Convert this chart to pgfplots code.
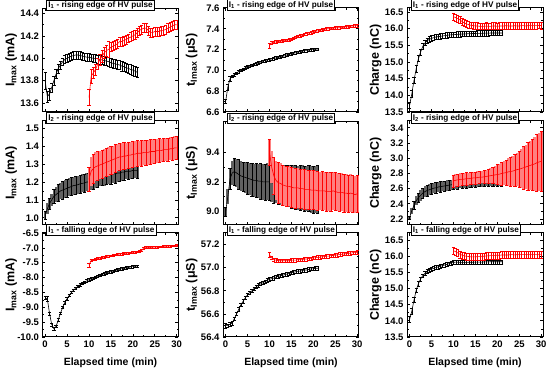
\documentclass[border=0pt]{standalone}
\usepackage{fontspec}
\setmainfont{Liberation Sans}
\usepackage{pgfplots}
\pgfplotsset{compat=1.18}
\usepackage{pgfplotstable}

\pgfplotstableread[row sep=\\]{t y e\\ 0 13.80 0.08\\ 0.5 13.66 0.05\\ 1 13.68 0.05\\ 1.5 13.74 0.04\\ 2 13.80 0.04\\ 2.5 13.86 0.04\\ 3 13.91 0.04\\ 3.5 13.94 0.035\\ 4 13.97 0.035\\ 4.5 13.99 0.035\\ 5 14.00 0.035\\ 5.5 14.01 0.035\\ 6 14.02 0.035\\ 6.5 14.025 0.035\\ 7 14.03 0.035\\ 7.5 14.03 0.035\\ 8 14.025 0.035\\ 8.5 14.02 0.035\\ 9 14.015 0.035\\ 9.5 14.01 0.035\\ 10 14.01 0.035\\ 10.5 14.005 0.035\\ 11 14.00 0.035\\ 11.5 14.00 0.035\\ 12 13.995 0.035\\ 12.5 13.99 0.038\\ 13 13.985 0.038\\ 13.5 13.98 0.038\\ 14 13.975 0.038\\ 14.5 13.97 0.04\\ 15 13.96 0.04\\ 15.5 13.955 0.04\\ 16 13.95 0.04\\ 16.5 13.945 0.04\\ 17 13.94 0.04\\ 17.5 13.93 0.042\\ 18 13.925 0.042\\ 18.5 13.915 0.042\\ 19 13.91 0.042\\ 19.5 13.90 0.045\\ 20 13.895 0.045\\ 20.5 13.885 0.045\\ 21 13.875 0.045\\}\Ab
\pgfplotstableread[row sep=\\]{t y e\\ 10 13.65 0.07\\ 10.5 13.84 0.06\\ 11 13.87 0.05\\ 11.5 13.90 0.05\\ 12 13.95 0.05\\ 12.5 13.99 0.05\\ 13 14.02 0.05\\ 13.5 14.05 0.05\\ 14 14.07 0.05\\ 14.5 14.08 0.07\\ 15 14.10 0.04\\ 15.5 14.11 0.04\\ 16 14.12 0.04\\ 16.5 14.13 0.04\\ 17 14.15 0.04\\ 17.5 14.15 0.04\\ 18 14.16 0.04\\ 18.5 14.17 0.04\\ 19 14.18 0.04\\ 19.5 14.19 0.04\\ 20 14.20 0.04\\ 20.5 14.21 0.04\\ 21 14.23 0.04\\ 21.5 14.25 0.04\\ 22 14.26 0.04\\ 22.5 14.27 0.04\\ 23 14.27 0.04\\ 23.5 14.25 0.04\\ 24 14.23 0.04\\ 24.5 14.23 0.04\\ 25 14.24 0.04\\ 25.5 14.24 0.04\\ 26 14.24 0.04\\ 26.5 14.25 0.04\\ 27 14.25 0.04\\ 27.5 14.26 0.04\\ 28 14.27 0.04\\ 28.5 14.28 0.04\\ 29 14.29 0.04\\ 29.5 14.30 0.04\\ 30 14.30 0.04\\}\Ar

\pgfplotstableread[row sep=\\]{t y e\\ 0 6.70 0.02\\ 0.5 6.84 0.03\\ 1 6.92 0.02\\ 1.5 6.945 0.012\\ 2 6.96 0.012\\ 2.5 6.975 0.012\\ 3 6.99 0.012\\ 3.5 7.00 0.012\\ 4 7.01 0.012\\ 4.5 7.025 0.012\\ 5 7.035 0.012\\ 5.5 7.04 0.012\\ 6 7.05 0.012\\ 6.5 7.06 0.012\\ 7 7.065 0.012\\ 7.5 7.075 0.012\\ 8 7.08 0.012\\ 8.5 7.09 0.012\\ 9 7.095 0.012\\ 9.5 7.10 0.012\\ 10 7.105 0.012\\ 10.5 7.11 0.012\\ 11 7.115 0.012\\ 11.5 7.12 0.012\\ 12 7.125 0.012\\ 12.5 7.13 0.012\\ 13 7.135 0.012\\ 13.5 7.14 0.012\\ 14 7.15 0.012\\ 14.5 7.155 0.012\\ 15 7.16 0.012\\ 15.5 7.165 0.012\\ 16 7.17 0.012\\ 16.5 7.175 0.012\\ 17 7.18 0.012\\ 17.5 7.185 0.012\\ 18 7.19 0.012\\ 18.5 7.19 0.012\\ 19 7.195 0.012\\ 19.5 7.20 0.012\\ 20 7.20 0.012\\ 20.5 7.205 0.012\\ 21 7.205 0.012\\}\Bb
\pgfplotstableread[row sep=\\]{t y e\\ 10 7.24 0.025\\ 10.5 7.265 0.012\\ 11 7.27 0.012\\ 11.5 7.275 0.012\\ 12 7.28 0.012\\ 12.5 7.28 0.012\\ 13 7.285 0.012\\ 13.5 7.29 0.012\\ 14 7.29 0.012\\ 14.5 7.295 0.012\\ 15 7.30 0.012\\ 15.5 7.31 0.012\\ 16 7.32 0.012\\ 16.5 7.33 0.012\\ 17 7.335 0.012\\ 17.5 7.34 0.012\\ 18 7.35 0.012\\ 18.5 7.355 0.012\\ 19 7.36 0.012\\ 19.5 7.365 0.012\\ 20 7.37 0.012\\ 20.5 7.375 0.012\\ 21 7.38 0.012\\ 21.5 7.385 0.012\\ 22 7.39 0.012\\ 22.5 7.395 0.012\\ 23 7.40 0.012\\ 23.5 7.40 0.012\\ 24 7.405 0.012\\ 24.5 7.405 0.012\\ 25 7.41 0.012\\ 25.5 7.41 0.012\\ 26 7.41 0.012\\ 26.5 7.415 0.012\\ 27 7.415 0.012\\ 27.5 7.42 0.012\\ 28 7.42 0.012\\ 28.5 7.425 0.012\\ 29 7.425 0.012\\ 29.5 7.43 0.012\\ 30 7.43 0.012\\}\Br

\pgfplotstableread[row sep=\\]{t y e\\ 0 13.70 0.1\\ 0.5 14.05 0.1\\ 1 14.45 0.1\\ 1.5 14.80 0.1\\ 2 15.10 0.09\\ 2.5 15.30 0.09\\ 3 15.47 0.08\\ 3.5 15.57 0.08\\ 4 15.64 0.08\\ 4.5 15.68 0.08\\ 5 15.71 0.08\\ 5.5 15.73 0.08\\ 6 15.75 0.08\\ 6.5 15.76 0.08\\ 7 15.77 0.08\\ 7.5 15.78 0.08\\ 8 15.79 0.08\\ 8.5 15.80 0.08\\ 9 15.81 0.08\\ 9.5 15.815 0.08\\ 10 15.82 0.08\\ 10.5 15.825 0.08\\ 11 15.83 0.08\\ 11.5 15.835 0.08\\ 12 15.84 0.08\\ 12.5 15.84 0.08\\ 13 15.845 0.08\\ 13.5 15.85 0.08\\ 14 15.85 0.08\\ 14.5 15.855 0.08\\ 15 15.855 0.08\\ 15.5 15.86 0.08\\ 16 15.86 0.08\\ 16.5 15.86 0.08\\ 17 15.865 0.08\\ 17.5 15.865 0.08\\ 18 15.865 0.08\\ 18.5 15.87 0.08\\ 19 15.87 0.08\\ 19.5 15.87 0.08\\ 20 15.87 0.08\\ 20.5 15.87 0.08\\ 21 15.87 0.08\\}\Cb
\pgfplotstableread[row sep=\\]{t y e\\ 10 16.36 0.1\\ 10.5 16.33 0.1\\ 11 16.30 0.1\\ 11.5 16.26 0.1\\ 12 16.21 0.1\\ 12.5 16.17 0.1\\ 13 16.14 0.1\\ 13.5 16.12 0.1\\ 14 16.10 0.1\\ 14.5 16.09 0.1\\ 15 16.08 0.1\\ 15.5 16.08 0.1\\ 16 16.07 0.1\\ 16.5 16.07 0.1\\ 17 16.07 0.1\\ 17.5 16.08 0.1\\ 18 16.07 0.1\\ 18.5 16.07 0.1\\ 19 16.08 0.1\\ 19.5 16.08 0.1\\ 20 16.07 0.1\\ 20.5 16.08 0.1\\ 21 16.08 0.1\\ 21.5 16.08 0.1\\ 22 16.09 0.1\\ 22.5 16.08 0.1\\ 23 16.08 0.1\\ 23.5 16.08 0.1\\ 24 16.09 0.1\\ 24.5 16.08 0.1\\ 25 16.08 0.1\\ 25.5 16.09 0.1\\ 26 16.09 0.1\\ 26.5 16.08 0.1\\ 27 16.09 0.1\\ 27.5 16.09 0.1\\ 28 16.09 0.1\\ 28.5 16.09 0.1\\ 29 16.09 0.1\\ 29.5 16.10 0.1\\ 30 16.09 0.1\\}\Cr

\pgfplotstableread[row sep=\\]{t y e\\ 0 1.015 0.02\\ 0.5 1.05 0.03\\ 1 1.08 0.03\\ 1.5 1.10 0.035\\ 2 1.12 0.04\\ 2.5 1.13 0.04\\ 3 1.14 0.045\\ 3.5 1.15 0.045\\ 4 1.155 0.05\\ 4.5 1.16 0.05\\ 5 1.165 0.05\\ 5.5 1.17 0.05\\ 6 1.175 0.05\\ 6.5 1.18 0.05\\ 7 1.182 0.05\\ 7.5 1.185 0.05\\ 8 1.19 0.05\\ 8.5 1.192 0.05\\ 9 1.195 0.05\\ 9.5 1.20 0.05\\ 10 1.20 0.05\\ 10.5 1.205 0.05\\ 11 1.21 0.05\\ 11.5 1.215 0.05\\ 12 1.22 0.05\\ 12.5 1.225 0.05\\ 13 1.23 0.05\\ 13.5 1.23 0.05\\ 14 1.235 0.05\\ 14.5 1.24 0.05\\ 15 1.24 0.05\\ 15.5 1.245 0.05\\ 16 1.245 0.05\\ 16.5 1.25 0.048\\ 17 1.25 0.048\\ 17.5 1.255 0.048\\ 18 1.255 0.047\\ 18.5 1.26 0.046\\ 19 1.26 0.046\\ 19.5 1.26 0.045\\ 20 1.265 0.045\\ 20.5 1.265 0.045\\ 21 1.265 0.045\\}\Db
\pgfplotstableread[row sep=\\]{t y e\\ 10 1.215 0.065\\ 10.5 1.26 0.08\\ 11 1.275 0.08\\ 11.5 1.285 0.08\\ 12 1.29 0.08\\ 12.5 1.295 0.08\\ 13 1.30 0.08\\ 13.5 1.305 0.08\\ 14 1.31 0.08\\ 14.5 1.315 0.08\\ 15 1.32 0.078\\ 15.5 1.325 0.078\\ 16 1.33 0.078\\ 16.5 1.335 0.076\\ 17 1.34 0.076\\ 17.5 1.34 0.075\\ 18 1.345 0.075\\ 18.5 1.345 0.074\\ 19 1.35 0.074\\ 19.5 1.35 0.073\\ 20 1.355 0.073\\ 20.5 1.355 0.072\\ 21 1.36 0.072\\ 21.5 1.36 0.071\\ 22 1.36 0.071\\ 22.5 1.365 0.07\\ 23 1.365 0.07\\ 23.5 1.365 0.07\\ 24 1.37 0.07\\ 24.5 1.37 0.068\\ 25 1.37 0.068\\ 25.5 1.375 0.067\\ 26 1.375 0.067\\ 26.5 1.375 0.066\\ 27 1.38 0.066\\ 27.5 1.38 0.065\\ 28 1.38 0.065\\ 28.5 1.385 0.065\\ 29 1.385 0.065\\ 29.5 1.39 0.065\\ 30 1.39 0.065\\}\Dr

\pgfplotstableread[row sep=\\]{t y e\\ 0 9.00 0.03\\ 0.5 9.10 0.05\\ 1 9.22 0.07\\ 1.5 9.26 0.08\\ 2 9.27 0.09\\ 2.5 9.26 0.095\\ 3 9.25 0.1\\ 3.5 9.24 0.1\\ 4 9.235 0.1\\ 4.5 9.23 0.105\\ 5 9.225 0.105\\ 5.5 9.22 0.11\\ 6 9.215 0.11\\ 6.5 9.21 0.11\\ 7 9.21 0.115\\ 7.5 9.205 0.115\\ 8 9.205 0.12\\ 8.5 9.20 0.12\\ 9 9.20 0.12\\ 9.5 9.20 0.125\\ 10 9.20 0.125\\ 10.5 9.195 0.127\\ 11 9.19 0.13\\ 11.5 9.19 0.13\\ 12 9.185 0.132\\ 12.5 9.18 0.134\\ 13 9.18 0.136\\ 13.5 9.175 0.138\\ 14 9.175 0.14\\ 14.5 9.17 0.142\\ 15 9.17 0.144\\ 15.5 9.165 0.146\\ 16 9.165 0.148\\ 16.5 9.16 0.15\\ 17 9.16 0.151\\ 17.5 9.16 0.152\\ 18 9.155 0.153\\ 18.5 9.155 0.154\\ 19 9.155 0.155\\ 19.5 9.15 0.156\\ 20 9.15 0.158\\ 20.5 9.15 0.159\\ 21 9.15 0.16\\}\Eb
\pgfplotstableread[row sep=\\]{t y e\\ 10 9.40 0.09\\ 10.5 9.30 0.11\\ 11 9.24 0.125\\ 11.5 9.21 0.13\\ 12 9.195 0.135\\ 12.5 9.19 0.135\\ 13 9.18 0.135\\ 13.5 9.175 0.135\\ 14 9.17 0.135\\ 14.5 9.17 0.135\\ 15 9.165 0.135\\ 15.5 9.16 0.135\\ 16 9.16 0.135\\ 16.5 9.16 0.135\\ 17 9.155 0.133\\ 17.5 9.155 0.133\\ 18 9.15 0.133\\ 18.5 9.15 0.132\\ 19 9.15 0.132\\ 19.5 9.145 0.132\\ 20 9.145 0.131\\ 20.5 9.145 0.131\\ 21 9.14 0.13\\ 21.5 9.14 0.13\\ 22 9.14 0.13\\ 22.5 9.14 0.13\\ 23 9.135 0.13\\ 23.5 9.135 0.13\\ 24 9.135 0.13\\ 24.5 9.14 0.13\\ 25 9.135 0.128\\ 25.5 9.13 0.128\\ 26 9.13 0.128\\ 26.5 9.13 0.127\\ 27 9.125 0.127\\ 27.5 9.125 0.126\\ 28 9.12 0.126\\ 28.5 9.125 0.125\\ 29 9.12 0.125\\ 29.5 9.115 0.125\\ 30 9.12 0.125\\}\Er

\pgfplotstableread[row sep=\\]{t y e\\ 0 2.22 0.02\\ 0.5 2.31 0.04\\ 1 2.38 0.05\\ 1.5 2.44 0.06\\ 2 2.48 0.065\\ 2.5 2.51 0.07\\ 3 2.54 0.07\\ 3.5 2.56 0.072\\ 4 2.575 0.072\\ 4.5 2.585 0.072\\ 5 2.595 0.07\\ 5.5 2.605 0.07\\ 6 2.61 0.07\\ 6.5 2.62 0.07\\ 7 2.625 0.07\\ 7.5 2.63 0.068\\ 8 2.635 0.068\\ 8.5 2.64 0.068\\ 9 2.645 0.066\\ 9.5 2.65 0.066\\ 10 2.655 0.065\\ 10.5 2.66 0.065\\ 11 2.66 0.064\\ 11.5 2.665 0.064\\ 12 2.665 0.063\\ 12.5 2.67 0.063\\ 13 2.67 0.062\\ 13.5 2.675 0.062\\ 14 2.675 0.062\\ 14.5 2.68 0.061\\ 15 2.68 0.061\\ 15.5 2.68 0.06\\ 16 2.685 0.06\\ 16.5 2.685 0.06\\ 17 2.685 0.06\\ 17.5 2.69 0.06\\ 18 2.69 0.06\\ 18.5 2.69 0.06\\ 19 2.69 0.06\\ 19.5 2.695 0.06\\ 20 2.695 0.06\\ 20.5 2.695 0.06\\ 21 2.695 0.06\\}\Fb
\pgfplotstableread[row sep=\\]{t y e\\ 10 2.70 0.08\\ 10.5 2.71 0.08\\ 11 2.715 0.08\\ 11.5 2.72 0.08\\ 12 2.72 0.08\\ 12.5 2.725 0.08\\ 13 2.73 0.08\\ 13.5 2.73 0.08\\ 14 2.735 0.08\\ 14.5 2.74 0.08\\ 15 2.74 0.08\\ 15.5 2.745 0.08\\ 16 2.75 0.08\\ 16.5 2.75 0.082\\ 17 2.755 0.085\\ 17.5 2.76 0.09\\ 18 2.765 0.095\\ 18.5 2.77 0.1\\ 19 2.775 0.11\\ 19.5 2.78 0.12\\ 20 2.785 0.13\\ 20.5 2.79 0.14\\ 21 2.80 0.15\\ 21.5 2.805 0.16\\ 22 2.81 0.17\\ 22.5 2.82 0.18\\ 23 2.825 0.19\\ 23.5 2.83 0.2\\ 24 2.84 0.21\\ 24.5 2.85 0.22\\ 25 2.855 0.24\\ 25.5 2.865 0.26\\ 26 2.875 0.28\\ 26.5 2.885 0.295\\ 27 2.895 0.31\\ 27.5 2.905 0.325\\ 28 2.915 0.34\\ 28.5 2.925 0.355\\ 29 2.94 0.37\\ 29.5 2.95 0.385\\ 30 2.96 0.40\\}\Fr

\pgfplotstableread[row sep=\\]{t y e\\ 0 -8.68 0.06\\ 0.5 -8.72 0.08\\ 1 -9.20 0.05\\ 1.5 -9.58 0.04\\ 2 -9.72 0.04\\ 2.5 -9.64 0.04\\ 3 -9.42 0.04\\ 3.5 -9.20 0.04\\ 4 -9.00 0.04\\ 4.5 -8.84 0.04\\ 5 -8.71 0.04\\ 5.5 -8.60 0.04\\ 6 -8.50 0.04\\ 6.5 -8.42 0.04\\ 7 -8.35 0.04\\ 7.5 -8.29 0.04\\ 8 -8.24 0.04\\ 8.5 -8.19 0.04\\ 9 -8.15 0.04\\ 9.5 -8.11 0.04\\ 10 -8.07 0.04\\ 10.5 -8.04 0.04\\ 11 -8.01 0.04\\ 11.5 -7.98 0.04\\ 12 -7.95 0.04\\ 12.5 -7.92 0.04\\ 13 -7.89 0.04\\ 13.5 -7.87 0.04\\ 14 -7.84 0.04\\ 14.5 -7.82 0.04\\ 15 -7.80 0.04\\ 15.5 -7.78 0.04\\ 16 -7.76 0.04\\ 16.5 -7.74 0.04\\ 17 -7.72 0.04\\ 17.5 -7.70 0.04\\ 18 -7.69 0.04\\ 18.5 -7.67 0.04\\ 19 -7.66 0.04\\ 19.5 -7.64 0.04\\ 20 -7.63 0.04\\ 20.5 -7.62 0.04\\ 21 -7.61 0.04\\}\Gb
\pgfplotstableread[row sep=\\]{t y e\\ 10 -7.58 0.06\\ 10.5 -7.42 0.03\\ 11 -7.40 0.03\\ 11.5 -7.38 0.03\\ 12 -7.36 0.03\\ 12.5 -7.34 0.03\\ 13 -7.32 0.03\\ 13.5 -7.31 0.03\\ 14 -7.29 0.03\\ 14.5 -7.27 0.03\\ 15 -7.26 0.03\\ 15.5 -7.25 0.03\\ 16 -7.23 0.03\\ 16.5 -7.22 0.03\\ 17 -7.21 0.03\\ 17.5 -7.20 0.03\\ 18 -7.19 0.03\\ 18.5 -7.18 0.03\\ 19 -7.17 0.03\\ 19.5 -7.16 0.03\\ 20 -7.15 0.03\\ 20.5 -7.14 0.03\\ 21 -7.13 0.03\\ 21.5 -7.10 0.03\\ 22 -7.09 0.03\\ 22.5 -7.00 0.03\\ 23 -6.99 0.03\\ 23.5 -6.99 0.03\\ 24 -6.98 0.03\\ 24.5 -6.98 0.03\\ 25 -6.97 0.03\\ 25.5 -6.97 0.03\\ 26 -6.96 0.03\\ 26.5 -6.96 0.03\\ 27 -6.95 0.03\\ 27.5 -6.95 0.03\\ 28 -6.94 0.03\\ 28.5 -6.94 0.03\\ 29 -6.93 0.03\\ 29.5 -6.93 0.03\\ 30 -6.92 0.03\\}\Gr

\pgfplotstableread[row sep=\\]{t y e\\ 0 56.50 0.02\\ 0.5 56.50 0.015\\ 1 56.51 0.015\\ 1.5 56.52 0.015\\ 2 56.56 0.015\\ 2.5 56.60 0.015\\ 3 56.64 0.015\\ 3.5 56.68 0.015\\ 4 56.71 0.015\\ 4.5 56.74 0.015\\ 5 56.765 0.015\\ 5.5 56.785 0.015\\ 6 56.80 0.015\\ 6.5 56.82 0.015\\ 7 56.835 0.015\\ 7.5 56.85 0.015\\ 8 56.86 0.015\\ 8.5 56.87 0.015\\ 9 56.88 0.015\\ 9.5 56.89 0.015\\ 10 56.90 0.015\\ 10.5 56.905 0.015\\ 11 56.91 0.015\\ 11.5 56.92 0.015\\ 12 56.925 0.015\\ 12.5 56.93 0.015\\ 13 56.935 0.015\\ 13.5 56.94 0.015\\ 14 56.945 0.015\\ 14.5 56.95 0.015\\ 15 56.955 0.015\\ 15.5 56.96 0.015\\ 16 56.965 0.015\\ 16.5 56.97 0.015\\ 17 56.97 0.015\\ 17.5 56.975 0.015\\ 18 56.98 0.015\\ 18.5 56.98 0.015\\ 19 56.985 0.015\\ 19.5 56.99 0.015\\ 20 56.99 0.015\\ 20.5 56.995 0.015\\ 21 56.995 0.015\\}\Hb
\pgfplotstableread[row sep=\\]{t y e\\ 10 57.11 0.02\\ 10.5 57.085 0.015\\ 11 57.07 0.015\\ 11.5 57.065 0.015\\ 12 57.06 0.015\\ 12.5 57.06 0.015\\ 13 57.06 0.015\\ 13.5 57.06 0.015\\ 14 57.06 0.015\\ 14.5 57.06 0.015\\ 15 57.065 0.015\\ 15.5 57.065 0.015\\ 16 57.065 0.015\\ 16.5 57.07 0.015\\ 17 57.07 0.015\\ 17.5 57.07 0.015\\ 18 57.075 0.015\\ 18.5 57.075 0.015\\ 19 57.08 0.015\\ 19.5 57.08 0.015\\ 20 57.085 0.015\\ 20.5 57.085 0.015\\ 21 57.09 0.015\\ 21.5 57.09 0.015\\ 22 57.095 0.015\\ 22.5 57.095 0.015\\ 23 57.10 0.015\\ 23.5 57.10 0.015\\ 24 57.105 0.015\\ 24.5 57.105 0.015\\ 25 57.11 0.015\\ 25.5 57.11 0.015\\ 26 57.115 0.015\\ 26.5 57.115 0.015\\ 27 57.12 0.015\\ 27.5 57.12 0.015\\ 28 57.125 0.015\\ 28.5 57.125 0.015\\ 29 57.13 0.015\\ 29.5 57.13 0.015\\ 30 57.135 0.015\\}\Hr

\pgfplotstableread[row sep=\\]{t y e\\ 0 14.05 0.08\\ 0.5 14.30 0.08\\ 1 14.65 0.08\\ 1.5 14.95 0.07\\ 2 15.15 0.07\\ 2.5 15.30 0.06\\ 3 15.40 0.06\\ 3.5 15.47 0.06\\ 4 15.53 0.06\\ 4.5 15.57 0.06\\ 5 15.60 0.06\\ 5.5 15.63 0.06\\ 6 15.65 0.06\\ 6.5 15.67 0.06\\ 7 15.69 0.06\\ 7.5 15.71 0.06\\ 8 15.73 0.06\\ 8.5 15.75 0.06\\ 9 15.77 0.06\\ 9.5 15.79 0.06\\ 10 15.81 0.06\\ 10.5 15.82 0.06\\ 11 15.815 0.06\\ 11.5 15.81 0.06\\ 12 15.81 0.06\\ 12.5 15.81 0.06\\ 13 15.81 0.06\\ 13.5 15.815 0.06\\ 14 15.815 0.06\\ 14.5 15.815 0.06\\ 15 15.82 0.06\\ 15.5 15.82 0.06\\ 16 15.82 0.06\\ 16.5 15.82 0.06\\ 17 15.825 0.06\\ 17.5 15.825 0.06\\ 18 15.825 0.06\\ 18.5 15.83 0.06\\ 19 15.83 0.06\\ 19.5 15.83 0.06\\ 20 15.83 0.06\\ 20.5 15.83 0.06\\ 21 15.83 0.06\\}\Ib
\pgfplotstableread[row sep=\\]{t y e\\ 10 16.17 0.11\\ 10.5 16.14 0.11\\ 11 16.10 0.11\\ 11.5 16.06 0.11\\ 12 16.03 0.11\\ 12.5 16.01 0.11\\ 13 16.00 0.11\\ 13.5 15.99 0.11\\ 14 15.98 0.11\\ 14.5 15.98 0.11\\ 15 15.98 0.11\\ 15.5 15.99 0.11\\ 16 15.99 0.11\\ 16.5 16.00 0.11\\ 17 16.00 0.11\\ 17.5 16.01 0.11\\ 18 16.01 0.11\\ 18.5 16.02 0.11\\ 19 16.02 0.11\\ 19.5 16.03 0.11\\ 20 16.03 0.11\\ 20.5 16.03 0.11\\ 21 16.04 0.11\\ 21.5 16.04 0.11\\ 22 16.04 0.11\\ 22.5 16.04 0.11\\ 23 16.05 0.11\\ 23.5 16.05 0.11\\ 24 16.04 0.11\\ 24.5 16.05 0.11\\ 25 16.05 0.11\\ 25.5 16.05 0.11\\ 26 16.05 0.11\\ 26.5 16.05 0.11\\ 27 16.05 0.11\\ 27.5 16.05 0.11\\ 28 16.05 0.11\\ 28.5 16.05 0.11\\ 29 16.05 0.11\\ 29.5 16.05 0.11\\ 30 16.05 0.11\\}\Ir

\pgfplotsset{
  panel/.style={
    scale only axis, width=136pt, height=104pt, anchor=south west,
    xmin=-0.6, xmax=30.4, xtick={0,5,...,30}, minor x tick num=1, minor y tick num=1,
    tick align=inside, tick pos=both,
    major tick length=3pt, minor tick length=1.8pt,
    axis line style={line width=1pt},
    every tick/.style={black, line width=0.7pt},
    tick label style={font=\bfseries\fontsize{9.5}{10}\selectfont},
    /pgf/number format/assume math mode=true,
    yticklabel style={/pgf/number format/.cd, fixed, fixed zerofill, precision=1},
    ylabel style={at={(axis description cs:-0.23,0.5)}, anchor=center, font=\bfseries\fontsize{12.5}{13}\selectfont},
    xlabel style={at={(axis description cs:0.5,-0.245)}, anchor=center, font=\bfseries\fontsize{10.5}{12}\selectfont},
    title style={at={(rel axis cs:0,1)}, anchor=north west, xshift=4pt, yshift=2.5pt, draw, fill=white, line width=0.6pt, inner sep=1.5pt, font=\bfseries\fontsize{8.2}{9}\selectfont},
  },
  notx/.style={xticklabels={}},
  ebar/.style={error bars/y dir=both, error bars/y explicit,
    error bars/error bar style={line width=0.35pt},
    error bars/error mark options={rotate=90, mark size=1.6pt, line width=0.35pt}},
  blk/.style={black, line width=0.6pt, mark=none, ebar},
  rd/.style={red, line width=0.6pt, mark=none, ebar},
  bandk/.style={draw=none, mark=none, forget plot, error bars/y dir=both, error bars/y explicit,
    error bars/error mark=none,
    error bars/error bar style={draw=black!62, line width=2.7pt, line cap=butt}},
  bandr/.style={draw=none, mark=none, forget plot, error bars/y dir=both, error bars/y explicit,
    error bars/error mark=none,
    error bars/error bar style={draw=red!50, line width=2.7pt, line cap=butt}},
  sparsek/.style={draw=none, mark=none, forget plot, each nth point=2, filter discard warning=false,
    error bars/y dir=both, error bars/y explicit,
    error bars/error bar style={draw=black, line width=0.35pt},
    error bars/error mark options={rotate=90, mark size=1.6pt, line width=0.35pt, draw=black}},
  sparser/.style={draw=none, mark=none, forget plot, each nth point=2, filter discard warning=false,
    error bars/y dir=both, error bars/y explicit,
    error bars/error bar style={draw=red, line width=0.35pt},
    error bars/error mark options={rotate=90, mark size=1.6pt, line width=0.35pt, draw=red}},
}

\begin{document}
\begin{tikzpicture}
\useasboundingbox (0,0) rectangle (550pt,374pt);

% ---------- Row 1 ----------
\begin{axis}[panel, notx, at={(42.5pt,262pt)}, ymin=13.52, ymax=14.45, ytick={13.6,13.8,...,14.41},
  ylabel={I\textsubscript{max} (mA)}, title={I\textsubscript{1} - rising edge of HV pulse}]
\addplot[blk] table[x=t, y=y, y error=e]{\Ab};
\addplot[rd] table[x=t, y=y, y error=e]{\Ar};
\end{axis}

\begin{axis}[panel, notx, at={(223pt,262pt)}, ymin=6.6, ymax=7.6, ytick={6.6,6.8,...,7.61},
  ylabel={t\textsubscript{Imax} (μS)}, title={I\textsubscript{1} - rising edge of HV pulse}]
\addplot[blk] table[x=t, y=y, y error=e]{\Bb};
\addplot[rd] table[x=t, y=y, y error=e]{\Br};
\end{axis}

\begin{axis}[panel, notx, at={(407pt,262pt)}, ymin=13.5, ymax=16.62, ytick={13.5,14,...,16.51},
  ylabel={Charge (nC)}, title={I\textsubscript{1} - rising edge of HV pulse}]
\addplot[blk] table[x=t, y=y, y error=e]{\Cb};
\addplot[rd] table[x=t, y=y, y error=e]{\Cr};
\end{axis}

% ---------- Row 2 ----------
\begin{axis}[panel, notx, at={(42.5pt,149pt)}, ymin=0.96, ymax=1.54, ytick={1.0,1.1,...,1.51},
  ylabel={I\textsubscript{max} (mA)}, title={I\textsubscript{2} - rising edge of HV pulse}]
\addplot[bandk] table[x=t, y=y, y error=e]{\Db};
\addplot[black, line width=0.6pt, mark=none] table[x=t, y=y]{\Db};
\addplot[sparsek] table[x=t, y=y, y error=e]{\Db};
\addplot[bandr] table[x=t, y=y, y error=e]{\Dr};
\addplot[red, line width=0.6pt, mark=none] table[x=t, y=y]{\Dr};
\addplot[sparser] table[x=t, y=y, y error=e]{\Dr};
\end{axis}

\begin{axis}[panel, notx, at={(223pt,149pt)}, ymin=8.91, ymax=9.61, ytick={9.0,9.2,9.4},
  ylabel={t\textsubscript{Imax} (μS)}, title={I\textsubscript{2} - rising edge of HV pulse}]
\addplot[bandk] table[x=t, y=y, y error=e]{\Eb};
\addplot[black, line width=0.6pt, mark=none] table[x=t, y=y]{\Eb};
\addplot[sparsek] table[x=t, y=y, y error=e]{\Eb};
\addplot[bandr] table[x=t, y=y, y error=e]{\Er};
\addplot[red, line width=0.6pt, mark=none] table[x=t, y=y]{\Er};
\addplot[sparser] table[x=t, y=y, y error=e]{\Er};
\end{axis}

\begin{axis}[panel, notx, at={(407pt,149pt)}, ymin=2.12, ymax=3.49, ytick={2.2,2.4,...,3.41},
  ylabel={Charge (nC)}, title={I\textsubscript{2} - rising edge of HV pulse}]
\addplot[bandk] table[x=t, y=y, y error=e]{\Fb};
\addplot[black, line width=0.6pt, mark=none] table[x=t, y=y]{\Fb};
\addplot[sparsek] table[x=t, y=y, y error=e]{\Fb};
\addplot[bandr] table[x=t, y=y, y error=e]{\Fr};
\addplot[red, line width=0.6pt, mark=none] table[x=t, y=y]{\Fr};
\addplot[sparser] table[x=t, y=y, y error=e]{\Fr};
\end{axis}

% ---------- Row 3 ----------
\begin{axis}[panel, at={(42.5pt,37pt)}, ymin=-10.0, ymax=-6.5, ytick={-10,-9.5,...,-6.49},
  ylabel={I\textsubscript{max} (mA)}, xlabel={Elapsed time (min)}, title={I\textsubscript{1} - falling edge of HV pulse}]
\addplot[blk] table[x=t, y=y, y error=e]{\Gb};
\addplot[rd] table[x=t, y=y, y error=e]{\Gr};
\end{axis}

\begin{axis}[panel, at={(223pt,37pt)}, ymin=56.4, ymax=57.3, ytick={56.4,56.6,...,57.21},
  ylabel={t\textsubscript{Imax} (μS)}, xlabel={Elapsed time (min)}, title={I\textsubscript{1} - falling edge of HV pulse}]
\addplot[blk] table[x=t, y=y, y error=e]{\Hb};
\addplot[rd] table[x=t, y=y, y error=e]{\Hr};
\end{axis}

\begin{axis}[panel, at={(407pt,37pt)}, ymin=13.5, ymax=16.72, ytick={13.5,14,...,16.51},
  ylabel={Charge (nC)}, xlabel={Elapsed time (min)}, title={I\textsubscript{1} - falling edge of HV pulse}]
\addplot[blk] table[x=t, y=y, y error=e]{\Ib};
\addplot[rd] table[x=t, y=y, y error=e]{\Ir};
\end{axis}
\end{tikzpicture}
\end{document}
